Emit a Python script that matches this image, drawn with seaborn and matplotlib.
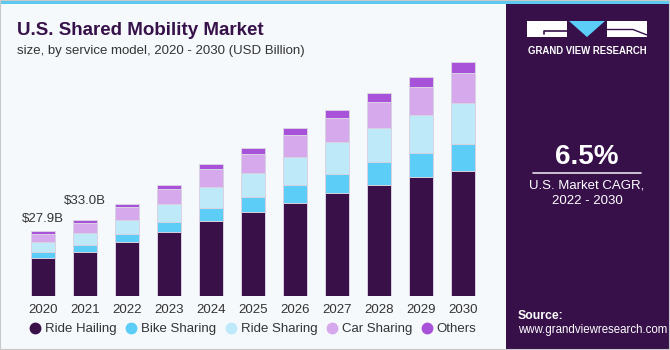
import numpy as np
import pandas as pd
import matplotlib.pyplot as plt
import matplotlib.colors as mcolors
from matplotlib.patches import Rectangle, Polygon
from matplotlib.lines import Line2D
import seaborn as sns

# Dữ liệu (USD Billion)
years = ['2020', '2021', '2022', '2023', '2024', '2025', '2026', '2027', '2028', '2029', '2030']
ride_hailing = [16.5, 19.2, 23.2, 27.8, 32.3, 36.2, 40.2, 44.4, 48.0, 51.5, 53.9]
bike_sharing = [2.45, 2.85, 3.6, 4.1, 5.5, 6.7, 7.6, 8.4, 9.9, 10.3, 11.5]
ride_sharing = [4.2, 5.3, 6.2, 7.7, 9.3, 10.1, 12.1, 13.5, 14.7, 16.2, 17.8]
car_sharing = [3.7, 4.1, 5.4, 6.5, 7.5, 8.2, 9.5, 10.6, 11.3, 12.2, 13.2]
others = [1.05, 1.55, 1.5, 1.9, 2.3, 2.8, 3.1, 3.4, 3.9, 4.3, 4.5]

series = ['Ride Hailing', 'Bike Sharing', 'Ride Sharing', 'Car Sharing', 'Others']
colors = ['#3A1049', '#5BCDF7', '#BDE9F9', '#D5A9EC', '#A852DA']
labels_shown = {'2020': '$27.9B', '2021': '$33.0B'}
label_offsets = [4.5, 9]  # points above bar top

BG = '#F5F9FC'
PANEL = '#37104A'
TEXT = '#333333'

df = pd.DataFrame({'year': years, 'Ride Hailing': ride_hailing, 'Bike Sharing': bike_sharing,
                   'Ride Sharing': ride_sharing, 'Car Sharing': car_sharing, 'Others': others})
cum = df[series].cumsum(axis=1)
df['total'] = cum['Others']

sns.set_theme(style='white')
plt.rcParams['font.family'] = ['Liberation Sans', 'DejaVu Sans']

fig = plt.figure(figsize=(6.7, 3.5), dpi=100)
fig.patch.set_facecolor(BG)

ax = fig.add_axes([0.0263, 0.1543, 0.702, 0.6886])
ax.set_facecolor(BG)

# Vẽ cột chồng: vẽ tổng tích lũy từ trên xuống
for name, color in reversed(list(zip(series, colors))):
    sns.barplot(x=df['year'], y=cum[name], color=color, saturation=1, width=0.58,
                edgecolor='#D9D2E2', linewidth=0.7, ax=ax)

ax.set_ylim(0, 104)
ax.set_xlim(-0.6, 10.6)
ax.set_xlabel('')
ax.set_ylabel('')
ax.set_yticks([])
ax.tick_params(axis='x', length=0, labelsize=9.5, labelcolor=TEXT, pad=5.5)
sns.despine(ax=ax, left=True, bottom=True)

for i, (yr, lab) in enumerate(labels_shown.items()):
    idx = years.index(yr)
    ax.annotate(lab, (idx, df['total'][idx]), xytext=(0, label_offsets[i]),
                textcoords='offset points', ha='center', va='bottom',
                fontsize=9.5, color=TEXT)

# Chú thích
handles = [Line2D([], [], marker='o', linestyle='', markersize=7.5, color=c) for c in colors]
fig.legend(handles, series, loc='center', bbox_to_anchor=(0.377, 0.06), ncol=5,
           frameon=False, fontsize=9.5, labelcolor=TEXT, handletextpad=0.25,
           columnspacing=0.6, handlelength=1.0)

# Tiêu đề
fig.text(0.025, 0.9, 'U.S. Shared Mobility Market', fontsize=13.5, fontweight='heavy',
         color='#37114A', va='baseline')
fig.text(0.025, 0.846, 'size, by service model, 2020 - 2030 (USD Billion)', fontsize=9.5,
         color=TEXT, va='baseline')

# Khung bên phải
fig.patches.append(Rectangle((0.7552, 0), 0.2448, 1, transform=fig.transFigure,
                             facecolor=PANEL, edgecolor='none', zorder=0))
grad_ax = fig.add_axes([0.7552, 0, 0.2448, 0.26])
cmap = mcolors.LinearSegmentedColormap.from_list('g', [PANEL, '#33356E', '#3F73AA'])
grad = np.linspace(1, 0, 100).reshape(-1, 1) ** 1.3
grad_ax.imshow(1 - grad, aspect='auto', cmap=cmap, extent=(0, 1, 0, 1))
for k in np.linspace(0, 1, 14):
    grad_ax.plot([k, 0.5 + (k - 0.5) * 0.6], [0, 0.55], color='white', alpha=0.06, lw=0.6)
for k in [0.08, 0.18, 0.3, 0.45]:
    grad_ax.axhline(k, color='white', alpha=0.06, lw=0.6)
grad_ax.set_xlim(0, 1)
grad_ax.set_ylim(0, 1)
grad_ax.axis('off')

# Logo
def fx(px):
    return px / 670

def fy(py):
    return 1 - py / 350

fig.patches.append(Rectangle((fx(527), fy(37)), fx(40), 16 / 350, transform=fig.transFigure,
                             facecolor='white', edgecolor='none'))
fig.patches.append(Rectangle((fx(607), fy(37)), fx(40), 16 / 350, transform=fig.transFigure,
                             facecolor='white', edgecolor='none'))
fig.patches.append(Polygon([(fx(569), fy(21)), (fx(605), fy(21)), (fx(587), fy(37))],
                           closed=True, transform=fig.transFigure, facecolor='#5BCDF7',
                           edgecolor='none'))
fig.lines.append(Line2D([fx(543.5), fx(543.5), fx(567)], [fy(34), fy(31), fy(31)],
                        transform=fig.transFigure, color=PANEL, lw=1.2))
fig.lines.append(Line2D([fx(607), fx(633), fx(647)], [fy(29.5), fy(29.5), fy(35)],
                        transform=fig.transFigure, color=PANEL, lw=1.0))
fig.text(fx(587), fy(50.5), 'GRAND VIEW RESEARCH', ha='center', va='center', fontsize=6.9,
         fontweight='bold', color='white')

fig.text(fx(587), fy(157), '6.5%', ha='center', va='center', fontsize=20, fontweight='bold',
         color='white')
fig.lines.append(Line2D([fx(533), fx(641)], [fy(173.3), fy(173.3)], transform=fig.transFigure,
                        color='#E6E0EA', lw=1.2))
fig.text(fx(587), fy(185), 'U.S. Market CAGR,', ha='center', va='center', fontsize=9.5,
         color='white')
fig.text(fx(587), fy(201), '2022 - 2030', ha='center', va='center', fontsize=9.5,
         color='white')
fig.text(fx(518), fy(316), 'Source:', ha='left', va='center', fontsize=8.8, fontweight='bold',
         color='white')
fig.text(fx(518), fy(329.5), 'www.grandviewresearch.com', ha='left', va='center',
         fontsize=8.3, color='white')

# Dải xanh trên cùng và viền
fig.patches.append(Rectangle((0, fy(4)), 1, 4 / 350, transform=fig.transFigure,
                             facecolor='#5BC8F0', edgecolor='none', zorder=5))
fig.patches.append(Rectangle((0, 0), 1, 1, transform=fig.transFigure, fill=False,
                             edgecolor='#C9C9C9', lw=1.5, zorder=6))

fig.savefig('out.png', dpi=100, facecolor=BG)
